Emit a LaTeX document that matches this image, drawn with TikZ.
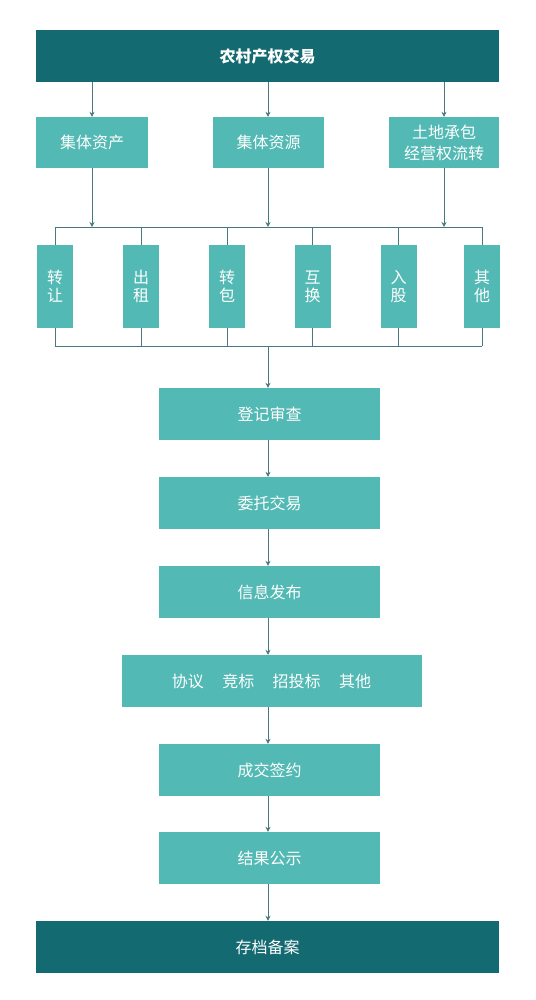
\documentclass[tikz,border=0pt]{standalone}
\usepackage{fontspec}
\setmainfont{Noto Sans CJK SC}
\usetikzlibrary{arrows.meta}
\definecolor{darkteal}{HTML}{136A70}
\definecolor{lightteal}{HTML}{52B9B4}
\definecolor{linec}{HTML}{4A7880}
\begin{document}
\begin{tikzpicture}[x=1pt,y=-1pt,
  darkbox/.style={fill=darkteal,draw=none,text=white,minimum width=463pt,minimum height=52pt,inner sep=0pt,font=\fontsize{16}{20}\selectfont},
  lightbox/.style={fill=lightteal,draw=none,text=white,minimum height=51pt,inner sep=0pt,align=center,font=\fontsize{16}{21}\selectfont},
  vbox/.style={fill=lightteal,draw=none,text=white,minimum width=36pt,minimum height=83pt,inner sep=0pt,align=center,font=\fontsize{16}{18}\selectfont},
  stepbox/.style={lightbox,minimum width=221pt,minimum height=52pt},
  conn/.style={draw=linec,line width=0.8pt},
  arr/.style={conn,-{Stealth[length=5pt,width=5pt]}}
]
\useasboundingbox (0,0) rectangle (535,1000);
\fill[white] (0,0) rectangle (535,1000);

\node[darkbox,font=\fontsize{16}{20}\selectfont\bfseries] (top) at (267.5,56) {农村产权交易};

\node[lightbox,minimum width=112pt] (b1) at (92,142.5) {集体资产};
\node[lightbox,minimum width=111pt] (b2) at (268.5,142.5) {集体资源};
\node[lightbox,minimum width=110pt] (b3) at (444,142.5) {土地承包\\经营权流转};

\draw[arr] (top.south -| b1) -- (b1.north);
\draw[arr] (top.south -| 268,0) -- (b2.north -| 268,0);
\draw[arr] (top.south -| b3) -- (b3.north);

\node[vbox] (v1) at (55,286.5) {转\\让};
\node[vbox] (v2) at (141,286.5) {出\\租};
\node[vbox] (v3) at (227,286.5) {转\\包};
\node[vbox] (v4) at (312.5,286.5) {互\\换};
\node[vbox] (v5) at (398.5,286.5) {入\\股};
\node[vbox] (v6) at (482,286.5) {其\\他};

\coordinate (busT) at (0,227);
\coordinate (busB) at (0,346);

\draw[conn] (v1.north |- busT) -- (v6.north |- busT);
\draw[conn] (v1.south |- busB) -- (v6.south |- busB);
\foreach \v in {v1,v2,v3,v4,v5,v6}{
  \draw[conn] (\v.north |- busT) -- (\v.north);
  \draw[conn] (\v.south) -- (\v.south |- busB);
}
\draw[arr] (b1.south) -- (b1.south |- busT);
\draw[arr] (b2.south -| 268,0) -- (268,227);
\draw[arr] (b3.south) -- (b3.south |- busT);

\node[stepbox] (s1) at (269.5,414) {登记审查};
\node[stepbox] (s2) at (269.5,503) {委托交易};
\node[stepbox] (s3) at (269.5,592) {信息发布};
\node[stepbox,minimum width=300pt] (s4) at (271.5,681) {协议\hspace{1.15em}竞标\hspace{1.15em}招投标\hspace{1.15em}其他};
\node[stepbox] (s5) at (269.5,770) {成交签约};
\node[stepbox] (s6) at (269.5,858) {结果公示};
\node[darkbox] (bot) at (267.5,947) {存档备案};

\draw[arr] (268,346) -- (s1.north -| 268,0);
\draw[arr] (s1.south -| 268,0) -- (s2.north -| 268,0);
\draw[arr] (s2.south -| 268,0) -- (s3.north -| 268,0);
\draw[arr] (s3.south -| 268,0) -- (s4.north -| 268,0);
\draw[arr] (s4.south -| 268,0) -- (s5.north -| 268,0);
\draw[arr] (s5.south -| 268,0) -- (s6.north -| 268,0);
\draw[arr] (s6.south -| 268,0) -- (bot.north -| 268,0);
\end{tikzpicture}
\end{document}
